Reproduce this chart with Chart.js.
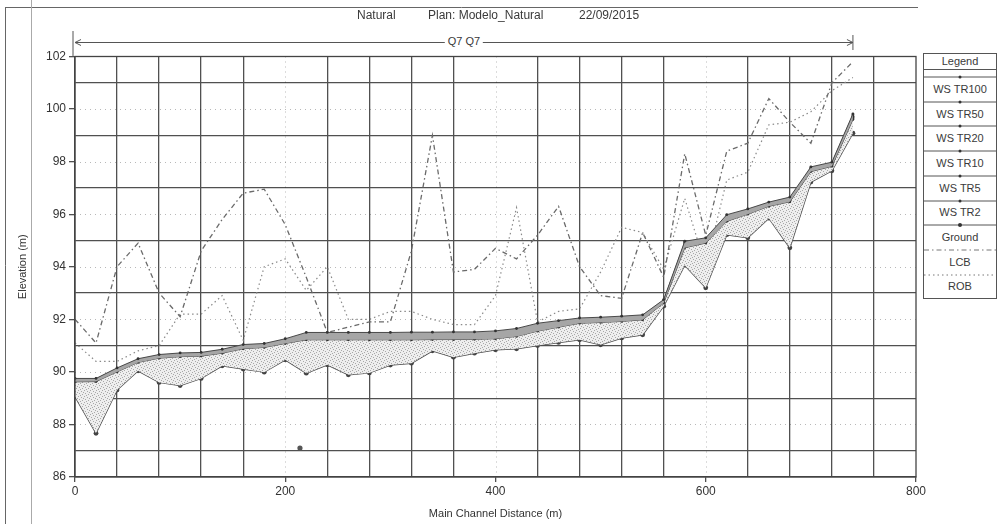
<!DOCTYPE html>
<html>
<head>
<meta charset="utf-8">
<script src="https://cdn.jsdelivr.net/npm/chart.js@4.4.1/dist/chart.umd.min.js"></script>
<style>
    body { margin: 0; background: #fff; }
    #wrap { position: relative; width: 997px; height: 524px; overflow: hidden;
            font-family: "Liberation Sans", Arial, sans-serif; color: #3a3a3a; }
    #chart { position: absolute; left: 0; top: 0; }
    .ttl { position: absolute; top: 8px; font-size: 12px; white-space: nowrap; }
    #q7 { position: absolute; top: 35px; font-size: 11px; background: #fff; padding: 0 3px;
          transform: translateX(-50%); white-space: nowrap; }
    #legend { position: absolute; left: 923px; top: 53px; width: 72px; height: 244px;
              border: 1px solid #555; background: #fff; }
    #legend .head { position: absolute; left: 0; top: 0; width: 72px; height: 15px; line-height: 15px;
                    text-align: center; font-size: 11px; border-bottom: 1px solid #555; }
    #legend .lab { position: absolute; left: 0; width: 72px; text-align: center; font-size: 11px; line-height: 13px; }
    #legend svg { position: absolute; left: 0; }
</style>
</head>
<body>
<div id="wrap">
    <canvas id="chart" width="997" height="524"></canvas>
    <div class="ttl" style="left:357px">Natural</div>
    <div class="ttl" style="left:428px">Plan: Modelo_Natural</div>
    <div class="ttl" style="left:579px">22/09/2015</div>
    <div id="q7">Q7 Q7</div>
    <div id="legend"><div class="head">Legend</div></div>
</div>
<script>
// stazioni (m) lungo il canale principale
const stations = [0, 20, 40, 60, 80, 100, 120, 140, 160, 180, 200, 220, 240, 260, 280, 300, 320, 340, 360,
    380, 400, 420, 440, 460, 480, 500, 520, 540, 560, 580, 600, 620, 640, 660, 680, 700, 720, 740];

const wsTR100 = [89.75, 89.75, 90.15, 90.50, 90.66, 90.72, 90.74, 90.86, 91.04, 91.08, 91.26, 91.50, 91.50, 91.50,
    91.50, 91.50, 91.51, 91.51, 91.52, 91.52, 91.56, 91.65, 91.85, 91.95, 92.05, 92.08, 92.12, 92.17, 92.75,
    94.97, 95.10, 95.98, 96.20, 96.46, 96.65, 97.80, 97.98, 99.82];
const wsTR50 = [89.72, 89.73, 90.12, 90.47, 90.63, 90.69, 90.71, 90.83, 91.01, 91.05, 91.22, 91.44, 91.44, 91.44,
    91.44, 91.44, 91.45, 91.45, 91.46, 91.46, 91.50, 91.59, 91.79, 91.90, 92.01, 92.04, 92.08, 92.13, 92.72,
    94.92, 95.06, 95.93, 96.16, 96.43, 96.61, 97.76, 97.95, 99.78];
const wsTR20 = [89.70, 89.70, 90.09, 90.44, 90.60, 90.66, 90.68, 90.80, 90.98, 91.02, 91.19, 91.39, 91.39, 91.39,
    91.39, 91.39, 91.40, 91.40, 91.41, 91.41, 91.44, 91.53, 91.73, 91.85, 91.97, 92.00, 92.04, 92.09, 92.70,
    94.87, 95.02, 95.88, 96.12, 96.40, 96.58, 97.73, 97.92, 99.73];
const wsTR10 = [89.67, 89.68, 90.06, 90.42, 90.58, 90.64, 90.66, 90.77, 90.94, 90.99, 91.15, 91.33, 91.33, 91.33,
    91.33, 91.33, 91.34, 91.34, 91.35, 91.35, 91.38, 91.47, 91.67, 91.80, 91.93, 91.96, 92.00, 92.06, 92.67,
    94.82, 94.98, 95.83, 96.08, 96.36, 96.54, 97.69, 97.88, 99.69];
const wsTR5 = [89.65, 89.65, 90.03, 90.39, 90.55, 90.61, 90.63, 90.74, 90.91, 90.96, 91.12, 91.28, 91.28, 91.28,
    91.28, 91.28, 91.28, 91.29, 91.29, 91.30, 91.32, 91.41, 91.61, 91.75, 91.89, 91.92, 91.96, 92.02, 92.65,
    94.77, 94.94, 95.78, 96.04, 96.33, 96.51, 97.66, 97.85, 99.64];
const wsTR2 = [89.62, 89.63, 90.00, 90.36, 90.52, 90.58, 90.60, 90.71, 90.88, 90.93, 91.08, 91.22, 91.22, 91.22,
    91.22, 91.22, 91.22, 91.23, 91.23, 91.24, 91.26, 91.35, 91.55, 91.70, 91.85, 91.88, 91.92, 91.98, 92.62,
    94.72, 94.90, 95.73, 96.00, 96.30, 96.47, 97.62, 97.82, 99.60];
const ground = [89.06, 87.66, 89.31, 90.04, 89.60, 89.48, 89.75, 90.23, 90.11, 89.99, 90.46, 89.95, 90.27, 89.89,
    89.96, 90.26, 90.33, 90.80, 90.56, 90.71, 90.84, 90.88, 91.00, 91.12, 91.22, 91.03, 91.29, 91.41, 92.50,
    94.06, 93.20, 95.22, 95.10, 95.85, 94.72, 97.22, 97.65, 99.08];
const lcb = [92.0, 91.1, 94.0, 94.9, 93.0, 92.1, 94.6, 95.8, 96.8, 96.95, 95.6, 93.6, 91.5, 91.7, 91.9, 91.9, 94.6,
    99.0, 93.8, 93.9, 94.7, 94.3, 95.2, 96.3, 94.0, 92.9, 92.8, 95.3, 93.6, 98.3, 95.2, 98.4, 98.7, 100.4, 99.5,
    98.7, 101.0, 101.8];
const rob = [91.1, 90.4, 90.4, 90.8, 91.0, 92.2, 92.2, 92.9, 91.2, 94.0, 94.3, 93.1, 94.0, 92.0, 92.0, 92.3, 92.3,
    92.0, 91.8, 91.8, 92.9, 96.25, 91.9, 92.3, 92.4, 93.8, 95.5, 95.3, 93.9, 96.6, 94.0, 97.3, 97.6, 99.4, 99.5,
    99.9, 100.7, 101.2];
// punto isolato vicino alla stazione 214
const loneX = [214];
const loneY = [87.1];

const xTicks = [0, 200, 400, 600, 800];
const yTicks = [86, 88, 90, 92, 94, 96, 98, 100, 102];
const reach = [0, 740];
const legendLabels = ['WS TR100', 'WS TR50', 'WS TR20', 'WS TR10', 'WS TR5', 'WS TR2', 'Ground', 'LCB', 'ROB'];

const pts = arr => stations.map((s, i) => ({ x: s, y: arr[i] }));
const GRID = '#505050';

// retino puntinato per l'area bagnata
const pc = document.createElement('canvas');
pc.width = 6; pc.height = 6;
const pg = pc.getContext('2d');
pg.fillStyle = '#eeeeee';
pg.fillRect(0, 0, 6, 6);
pg.fillStyle = '#a8a8a8';
[[0, 0], [3, 1], [1, 3], [4, 4], [5, 2], [2, 5]].forEach(([a, b]) => pg.fillRect(a, b, 1, 1));
const stipple = pg.createPattern(pc, 'repeat');

const wsStyle = (label, arr, fill, bg) => ({
    label, data: pts(arr), borderColor: '#4a4a4a', borderWidth: 1,
    pointRadius: 1.4, pointBackgroundColor: '#333', pointBorderWidth: 0,
    fill, backgroundColor: bg
});

const decor = {
    id: 'decor',
    beforeDatasetsDraw(chart) {
        const { ctx, chartArea: a, scales: { x, y } } = chart;
        ctx.save();
        ctx.strokeStyle = 'rgba(0,0,0,0.28)';
        ctx.lineWidth = 1;
        ctx.setLineDash([1, 4]);
        xTicks.slice(1, -1).forEach(v => {
            const px = Math.round(x.getPixelForValue(v)) + 0.5;
            ctx.beginPath(); ctx.moveTo(px, a.top); ctx.lineTo(px, a.bottom); ctx.stroke();
        });
        yTicks.slice(1, -1).forEach(v => {
            const py = Math.round(y.getPixelForValue(v)) + 0.5;
            ctx.beginPath(); ctx.moveTo(a.left, py); ctx.lineTo(a.right, py); ctx.stroke();
        });
        ctx.restore();
    },
    afterDraw(chart) {
        const { ctx, chartArea: a, scales: { x } } = chart;
        ctx.save();
        ctx.strokeStyle = '#444';
        ctx.lineWidth = 1.3;
        ctx.strokeRect(a.left, a.top, a.right - a.left, a.bottom - a.top);
        // cornice esterna
        ctx.strokeStyle = '#666';
        ctx.lineWidth = 1;
        ctx.beginPath(); ctx.moveTo(5, 7.5); ctx.lineTo(918, 7.5); ctx.stroke();
        ctx.beginPath(); ctx.moveTo(5.5, 7); ctx.lineTo(5.5, 524); ctx.stroke();
        ctx.strokeStyle = '#aaa';
        ctx.beginPath(); ctx.moveTo(31.5, 0); ctx.lineTo(31.5, 524); ctx.stroke();
        // tratto Q7
        const x0 = x.getPixelForValue(reach[0]), x1 = x.getPixelForValue(reach[1]);
        const yq = 42.5;
        ctx.strokeStyle = '#555';
        ctx.beginPath(); ctx.moveTo(x0, yq); ctx.lineTo(x1, yq); ctx.stroke();
        ctx.beginPath(); ctx.moveTo(x0 - 2, 31); ctx.lineTo(x0 - 2, a.top); ctx.stroke();
        ctx.beginPath(); ctx.moveTo(x1, 35); ctx.lineTo(x1, 50); ctx.stroke();
        ctx.beginPath(); ctx.moveTo(x0 + 6, yq - 3); ctx.lineTo(x0, yq); ctx.lineTo(x0 + 6, yq + 3); ctx.stroke();
        ctx.beginPath(); ctx.moveTo(x1 - 6, yq - 3); ctx.lineTo(x1, yq); ctx.lineTo(x1 - 6, yq + 3); ctx.stroke();
        ctx.restore();
        const q = document.getElementById('q7');
        q.style.left = ((x0 + x1) / 2) + 'px';
    }
};

new Chart(document.getElementById('chart'), {
    type: 'line',
    data: {
        datasets: [
            wsStyle('WS TR100', wsTR100, 5, '#a6a6a6'),
            wsStyle('WS TR50', wsTR50, false),
            wsStyle('WS TR20', wsTR20, false),
            wsStyle('WS TR10', wsTR10, false),
            wsStyle('WS TR5', wsTR5, false),
            wsStyle('WS TR2', wsTR2, 6, stipple),
            {
                label: 'Ground', data: pts(ground), borderColor: '#4d4d4d', borderWidth: 1.4,
                pointRadius: 2.4, pointBackgroundColor: '#444', pointBorderWidth: 0, fill: false
            },
            {
                label: 'LCB', data: pts(lcb), borderColor: '#6a6a6a', borderWidth: 1.3,
                borderDash: [5, 3, 1.5, 3], pointRadius: 0, fill: false
            },
            {
                label: 'ROB', data: pts(rob), borderColor: '#8a8a8a', borderWidth: 1.2,
                borderDash: [1.5, 3], pointRadius: 0, fill: false
            },
            {
                label: 'point', data: loneX.map((v, i) => ({ x: v, y: loneY[i] })), showLine: false,
                pointRadius: 2.6, pointBackgroundColor: '#555', pointBorderWidth: 0
            }
        ]
    },
    options: {
        responsive: false,
        animation: false,
        devicePixelRatio: 1,
        layout: { padding: { left: 0, right: 81, top: 56.5, bottom: 0 } },
        plugins: { legend: { display: false }, tooltip: { enabled: false }, title: { display: false } },
        elements: { line: { tension: 0 } },
        scales: {
            x: {
                type: 'linear', min: 0, max: 800,
                afterFit: s => { s.height = 47; },
                ticks: {
                    stepSize: 40, autoSkip: false, maxRotation: 0, padding: 2, color: '#333',
                    font: { family: 'Liberation Sans', size: 12 },
                    callback: v => (xTicks.includes(v) ? v : '')
                },
                grid: {
                    color: c => (c.tick && xTicks.includes(c.tick.value) ? 'transparent' : GRID),
                    tickColor: c => (c.tick && xTicks.includes(c.tick.value) ? GRID : 'transparent'),
                    lineWidth: 1.3, tickLength: 5
                },
                border: { color: '#444', width: 1.3 },
                title: {
                    display: true, text: 'Main Channel Distance (m)', color: '#333',
                    font: { family: 'Liberation Sans', size: 11 }, padding: { top: 2, bottom: 3 }
                }
            },
            y: {
                min: 86, max: 102,
                afterFit: s => { s.width = 75; },
                ticks: {
                    stepSize: 1, autoSkip: false, padding: 3, color: '#333',
                    font: { family: 'Liberation Sans', size: 12 },
                    callback: v => (yTicks.includes(v) ? v : '')
                },
                grid: {
                    color: c => (c.tick && yTicks.includes(c.tick.value) ? 'transparent' : GRID),
                    tickColor: c => (c.tick && yTicks.includes(c.tick.value) ? GRID : 'transparent'),
                    lineWidth: 1.3, tickLength: 6
                },
                border: { color: '#444', width: 1.3 },
                title: {
                    display: true, text: 'Elevation (m)', color: '#333',
                    font: { family: 'Liberation Sans', size: 11 }, padding: { top: 16, bottom: 0 }
                }
            }
        }
    },
    plugins: [decor]
});

// legenda a destra
const legend = document.getElementById('legend');
const sampleDash = ['', '', '', '', '', '', '', '5 3 1.5 3', '1.5 3'];
legendLabels.forEach((lab, i) => {
    const yLine = 23 + 24.7 * i;
    const svg = document.createElementNS('http://www.w3.org/2000/svg', 'svg');
    svg.setAttribute('width', '72');
    svg.setAttribute('height', '6');
    svg.style.top = (yLine - 3) + 'px';
    const ln = document.createElementNS('http://www.w3.org/2000/svg', 'line');
    ln.setAttribute('x1', '0'); ln.setAttribute('x2', '72');
    ln.setAttribute('y1', '3'); ln.setAttribute('y2', '3');
    ln.setAttribute('stroke', i < 7 ? '#555' : '#777');
    ln.setAttribute('stroke-width', '1');
    if (sampleDash[i]) ln.setAttribute('stroke-dasharray', sampleDash[i]);
    svg.appendChild(ln);
    if (i < 7) {
        const dot = document.createElementNS('http://www.w3.org/2000/svg', 'circle');
        dot.setAttribute('cx', '36'); dot.setAttribute('cy', '3');
        dot.setAttribute('r', i === 6 ? '2' : '1.5'); dot.setAttribute('fill', '#333');
        svg.appendChild(dot);
    }
    legend.appendChild(svg);
    const t = document.createElement('div');
    t.className = 'lab';
    t.textContent = lab;
    t.style.top = (35.3 + 24.7 * i - 6.5) + 'px';
    legend.appendChild(t);
});
</script>
</body>
</html>
